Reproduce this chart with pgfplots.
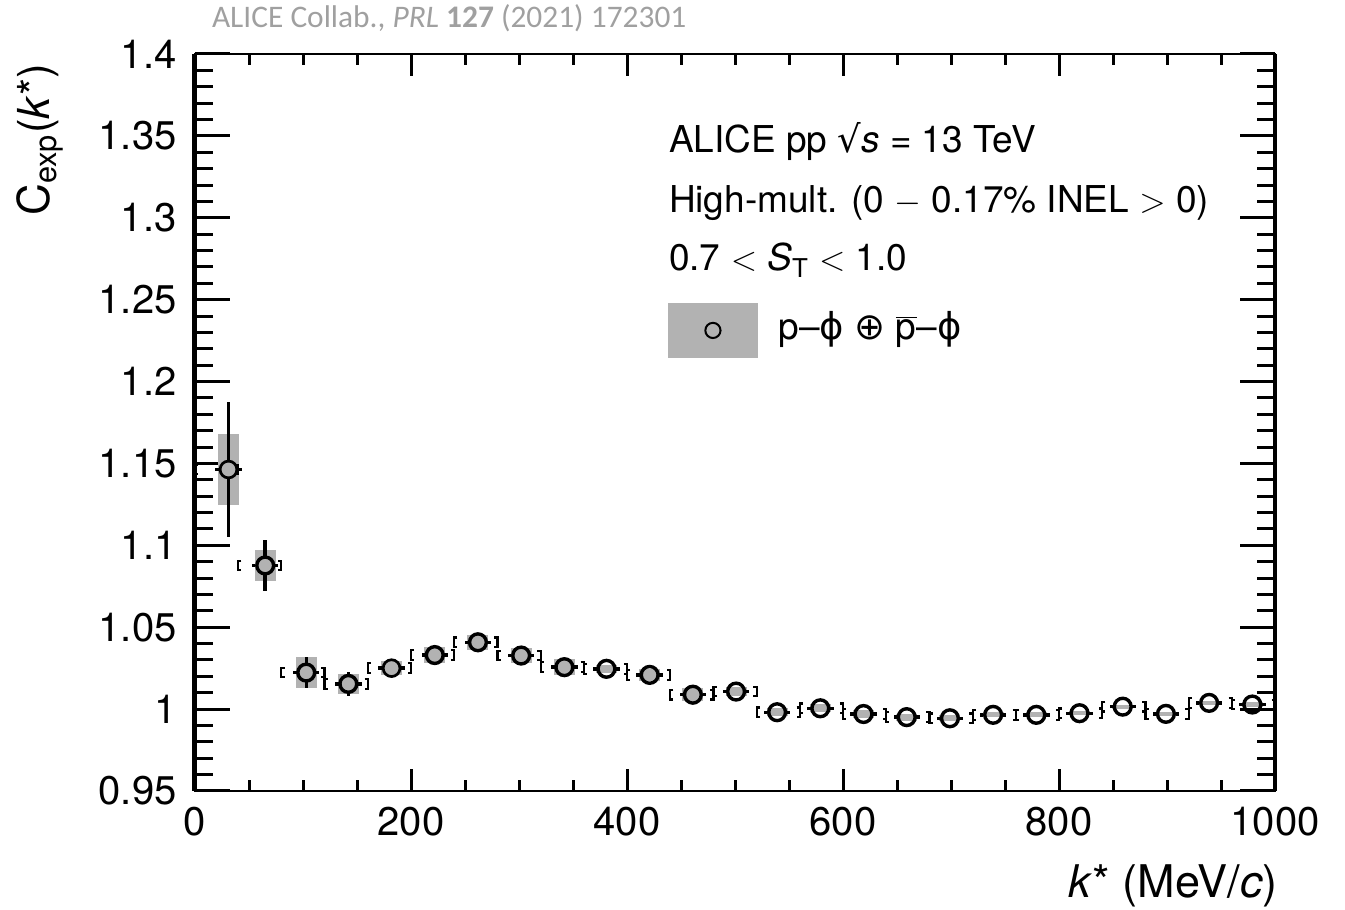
\documentclass[border=0pt]{standalone}
\usepackage{pgfplots}
\pgfplotsset{compat=1.18}
\usepackage{pgfplotstable}
\usepackage{fontspec}
\setmainfont{TeX Gyre Heros}
\newfontfamily\carlito{Carlito}
\newfontfamily\dejavu{DejaVu Sans}
\definecolor{sysgray}{RGB}{178,178,178}
\definecolor{citegray}{RGB}{160,160,160}

\pgfdeclareplotmark{lbr}{%
  \pgfpathmoveto{\pgfqpoint{1.6pt}{2.4pt}}%
  \pgfpathlineto{\pgfqpoint{0pt}{2.4pt}}%
  \pgfpathlineto{\pgfqpoint{0pt}{-2.4pt}}%
  \pgfpathlineto{\pgfqpoint{1.6pt}{-2.4pt}}%
  \pgfusepathqstroke}
\pgfdeclareplotmark{rbr}{%
  \pgfpathmoveto{\pgfqpoint{-1.6pt}{2.4pt}}%
  \pgfpathlineto{\pgfqpoint{0pt}{2.4pt}}%
  \pgfpathlineto{\pgfqpoint{0pt}{-2.4pt}}%
  \pgfpathlineto{\pgfqpoint{-1.6pt}{-2.4pt}}%
  \pgfusepathqstroke}
% open circle with short horizontal stubs (ROOT style)
\pgfdeclareplotmark{ostub}{%
  \pgfpathcircle{\pgfpointorigin}{4.2pt}%
  \pgfusepathqstroke
  \pgfsetlinewidth{1.7pt}\pgfsetbuttcap
  \pgfpathmoveto{\pgfqpoint{4.85pt}{0pt}}\pgfpathlineto{\pgfqpoint{6.6pt}{0pt}}%
  \pgfpathmoveto{\pgfqpoint{-4.85pt}{0pt}}\pgfpathlineto{\pgfqpoint{-6.6pt}{0pt}}%
  \pgfusepathqstroke}
\pgfdeclareplotmark{fstub}{%
  \pgfpathcircle{\pgfpointorigin}{4.2pt}%
  \pgfusepathqfillstroke
  \pgfsetlinewidth{1.7pt}\pgfsetbuttcap
  \pgfpathmoveto{\pgfqpoint{4.85pt}{0pt}}\pgfpathlineto{\pgfqpoint{6.6pt}{0pt}}%
  \pgfpathmoveto{\pgfqpoint{-4.85pt}{0pt}}\pgfpathlineto{\pgfqpoint{-6.6pt}{0pt}}%
  \pgfusepathqstroke}

% x = <k*>, y = C, stat, sys, lo/hi = bin edges
\pgfplotstableread{
x    y      stat    sys     lo   hi
31   1.1463 0.0413  0.0219  0    40
65   1.0877 0.0155  0.0097  40   80
103  1.0223 0.0094  0.0095  80   120
142  1.0154 0.0072  0.0061  120  160
182  1.0250 0.0040  0.0043  160  200
222  1.0330 0.0040  0.0048  200  240
262  1.0408 0.0040  0.0045  240  280
302  1.0327 0.0040  0.0045  280  320
342  1.0256 0.0040  0.0050  320  360
381  1.0246 0.0040  0.0025  360  400
421  1.0209 0.0040  0.0035  400  440
461  1.0088 0.0040  0.0040  440  480
501  1.0107 0.0040  0.0025  480  520
539  0.9981 0.0040  0.0025  520  560
579  1.0005 0.0040  0.0025  560  600
619  0.9970 0.0040  0.0025  600  640
659  0.9951 0.0040  0.0021  640  680
699  0.9944 0.0040  0.0019  680  720
739  0.9965 0.0040  0.0016  720  760
779  0.9965 0.0040  0.0016  760  800
819  0.9975 0.0040  0.0013  800  840
859  1.0015 0.0040  0.0013  840  880
899  0.9971 0.0040  0.0013  880  920
939  1.0038 0.0040  0.0013  920  960
979  1.0028 0.0040  0.0013  960  1000
}\data

\begin{document}
\begin{tikzpicture}
\useasboundingbox (-97.5pt,-59.5pt) rectangle (575pt,395.5pt);
\begin{axis}[
  at={(0,0)}, anchor=south west, scale only axis,
  width=540pt, height=368.5pt,
  xmin=0, xmax=1000, ymin=0.95, ymax=1.4,
  clip=false,
  xtick=\empty,
  ytick={0.95,1,1.05,1.1,1.15,1.2,1.25,1.3,1.35,1.4},
  yticklabels={0.95,1,1.05,1.1,1.15,1.2,1.25,1.3,1.35,1.4},
  minor y tick num=4,
  tick align=inside,
  major tick length=17.5pt, minor tick length=9pt,
  tick style={line width=1.5pt, black},
  axis line style={line width=1.2pt},
  yticklabel style={font=\fontsize{20}{24}\selectfont, inner sep=0pt, xshift=-9pt},
  legend cell align=left,
  legend style={at={(rel axis cs:0.438,0.6621)}, anchor=north west,
    draw=none, fill=none, inner sep=0pt, outer sep=0pt,
    nodes={inner sep=0pt, font=\fontsize{18.5}{22}\selectfont},
    /tikz/column sep=0pt},
]
% systematic boxes
\addplot[forget plot, draw=none, mark=none,
  error bars/.cd, y dir=both, y explicit, error mark=none,
  error bar style={draw=sysgray, line width=10.5pt, line cap=butt}]
  table[x=x, y=y, y error=sys] {\data};
% bin-edge brackets
\addplot[forget plot, only marks, mark=lbr, mark options={line width=1.1pt, black}]
  table[x=lo, y=y] {\data};
\addplot[forget plot, only marks, mark=rbr, mark options={line width=1.1pt, black}]
  table[x=hi, y=y] {\data};
% statistical error bars (visible beyond the marker only for the first points)
\addplot[forget plot, draw=none, mark=none, skip coords between index={4}{25},
  error bars/.cd, y dir=both, y explicit, error mark=none,
  error bar style={draw=black, line width=1.7pt, line cap=butt}]
  table[x=x, y=y, y error=stat] {\data};
% data points
\addplot[forget plot, only marks, mark=fstub, skip coords between index={4}{25},
  mark options={line width=1.35pt, draw=black, fill=sysgray}]
  table[x=x, y=y] {\data};
\addplot[forget plot, only marks, mark=ostub, skip coords between index={0}{4},
  mark options={line width=1.35pt, draw=black}]
  table[x=x, y=y] {\data};
\draw[line width=2.5pt] (rel axis cs:0,0) -- (rel axis cs:0,1);
\draw[line width=1.7pt] (rel axis cs:1,0) -- (rel axis cs:1,1);
\addlegendimage{legend image code/.code={%
  \fill[sysgray] (0pt,-15pt) rectangle (44.5pt,12pt);
  \draw[line width=1pt, black] (22.25pt,-1.5pt) circle (3.8pt);
  \path (55pt,0pt);}}
\addlegendentry{p–{\dejavu ϕ} {\dejavu ⊕} $\overline{\mbox{p}}$–{\dejavu ϕ}}
\end{axis}
\begin{axis}[
  at={(0,0)}, anchor=south west, scale only axis,
  width=540pt, height=368.5pt,
  xmin=0, xmax=1000, ymin=0.95, ymax=1.4,
  ytick=\empty,
  xtick={0,200,400,600,800,1000},
  xticklabels={0,200,400,600,800,1000},
  minor x tick num=3,
  tick align=inside,
  major tick length=11pt, minor tick length=5.5pt,
  tick style={line width=1.5pt, black},
  axis line style={line width=1.2pt},
  xticklabel style={font=\fontsize{20}{24}\selectfont, inner sep=0pt, yshift=-8pt},
]
\end{axis}
\node[anchor=base west, text=citegray, font=\carlito\fontsize{15.7}{19}\selectfont] at (5pt,381.5pt)
  {ALICE Collab., \textit{PRL} \textbf{127} (2021) 172301};
\node[rotate=90, anchor=base east, font=\fontsize{22}{26}\selectfont] at (-72.5pt,367pt)
  {C\textsubscript{exp}(\textit{k}*)};
\node[anchor=base east, font=\fontsize{22.5}{26}\selectfont] at (545pt,-53.5pt)
  {\textit{k}* (MeV/\textit{c})};
\begin{scope}[font=\fontsize{18.5}{22}\selectfont]
\node[anchor=base west] at (233.5pt,319pt) {ALICE pp {\dejavu √}\textit{s} = 13 TeV};
\node[anchor=base west] at (233.5pt,289pt) {High-mult. (0 $-$ 0.17\% INEL $>$ 0)};
\node[anchor=base west] at (233.5pt,260pt) {0.7 $<$ \textit{S}\textsubscript{T} $<$ 1.0};
\end{scope}
\end{tikzpicture}
\end{document}
